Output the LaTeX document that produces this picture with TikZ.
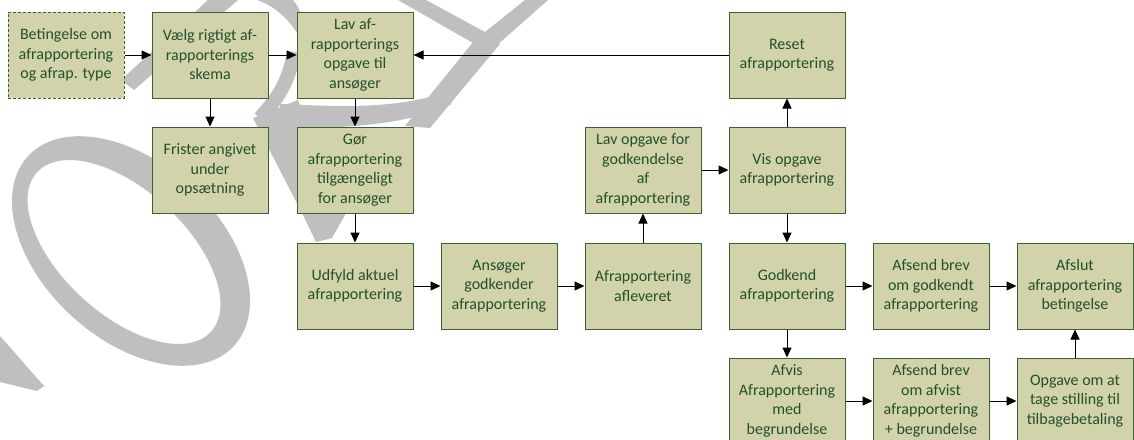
\documentclass[tikz,border=0pt]{standalone}
\usepackage{fontspec}
\setmainfont{Carlito}
\usetikzlibrary{arrows.meta}
\definecolor{boxfill}{HTML}{D3D3AB}
\definecolor{boxline}{HTML}{3A6036}
\definecolor{boxtext}{HTML}{22502C}
\definecolor{wmgray}{HTML}{BFBFBF}
\tikzset{
  stepbox/.style={rectangle, draw=boxline, fill=boxfill, line width=1pt,
    minimum width=116pt, minimum height=86pt, inner sep=0pt, align=center,
    text=boxtext, font=\fontsize{16}{19.5}\selectfont},
  condbox/.style={stepbox, dash pattern=on 3pt off 2pt},
  conn/.style={draw=black, line width=1pt, -{Triangle[length=10pt,width=9pt]}},
  wm/.style={fill=wmgray, draw=none}
}
\begin{document}
\begin{tikzpicture}[x=1pt,y=-1pt]
\clip (0,0) rectangle (1134,439);
\fill[white] (0,0) rectangle (1134,439);

% background watermark letters
\fill[wm] (0,336) -- (44,386) -- (37,391) -- (0,382) -- cycle;
\fill[wm, even odd rule] (131,251) circle[x radius=140, y radius=88, rotate=-42.6]
  (124,252) circle[x radius=118, y radius=62, rotate=-42.6];
\fill[wm] (121,80) -- (134,90) -- (238,0) -- (208,0) -- cycle;
\fill[wm] (257,0) -- (293,0) .. controls (300,8) and (305,20) .. (305,40)
  -- (300,38) .. controls (290,20) and (275,6) .. cycle;
\draw[wmgray, line width=14pt] (294,52) .. controls (288,88) and (272,104) .. (260,118);
\fill[wm] (253,118) -- (298,100) -- (345,215) -- (332,238) -- (316,242) -- (303,215) -- cycle;
\fill[wm] (280,104) .. controls (330,106) and (390,110) .. (440,94)
  -- (452,104) .. controls (400,128) and (330,128) .. (280,128) -- cycle;
\fill[wm] (478,36) -- (500,44) -- (430,128) -- (405,126) -- cycle;
\fill[wm] (398,0) -- (426,0) -- (496,38) -- (480,47) -- cycle;
\fill[wm] (525,0) -- (548,0) -- (496,46) -- (480,36) -- cycle;

% process steps
\node[condbox] (bet)     at (66,55)   {Betingelse om\\afrapportering\\og afrap. type};
\node[stepbox] (vaelg)   at (210,55)  {Vælg rigtigt af-\\rapporterings\\skema};
\node[stepbox] (lav)     at (355,55)  {Lav af-\\rapporterings\\opgave til\\ansøger};
\node[stepbox] (reset)   at (787,55)  {Reset\\afrapportering};
\node[stepbox] (frister) at (210,170) {Frister angivet\\under\\opsætning};
\node[stepbox] (gor)     at (355,170) {Gør\\afrapportering\\tilgængeligt\\for ansøger};
\node[stepbox] (lavopg)  at (643,170) {Lav opgave for\\godkendelse\\af\\afrapportering};
\node[stepbox] (vis)     at (787,170) {Vis opgave\\afrapportering};
\node[stepbox] (udfyld)  at (355,286) {Udfyld aktuel\\afrapportering};
\node[stepbox] (ansoger) at (499,286) {Ansøger\\godkender\\afrapportering};
\node[stepbox] (aflev)   at (643,286) {Afrapportering\\afleveret};
\node[stepbox] (godkend) at (787,286) {Godkend\\afrapportering};
\node[stepbox] (afsendg) at (931,286) {Afsend brev\\om godkendt\\afrapportering};
\node[stepbox] (afslut)  at (1075,286) {Afslut\\afrapportering\\betingelse};
\node[stepbox] (afvis)   at (787,401) {Afvis\\Afrapportering\\med\\begrundelse};
\node[stepbox] (afsenda) at (931,401) {Afsend brev\\om afvist\\afrapportering\\+ begrundelse};
\node[stepbox] (opgave)  at (1075,401) {Opgave om at\\tage stilling til\\tilbagebetaling};

% flow
\draw[conn] (bet) -- (vaelg);
\draw[conn] (vaelg) -- (lav);
\draw[conn] (reset) -- (lav);
\draw[conn] (vaelg) -- (frister);
\draw[conn] (lav) -- (gor);
\draw[conn] (gor) -- (udfyld);
\draw[conn] (udfyld) -- (ansoger);
\draw[conn] (ansoger) -- (aflev);
\draw[conn] (aflev) -- (lavopg);
\draw[conn] (lavopg) -- (vis);
\draw[conn] (vis) -- (reset);
\draw[conn] (vis) -- (godkend);
\draw[conn] (godkend) -- (afsendg);
\draw[conn] (afsendg) -- (afslut);
\draw[conn] (godkend) -- (afvis);
\draw[conn] (afvis) -- (afsenda);
\draw[conn] (afsenda) -- (opgave);
\draw[conn] (opgave) -- (afslut);
\end{tikzpicture}
\end{document}
